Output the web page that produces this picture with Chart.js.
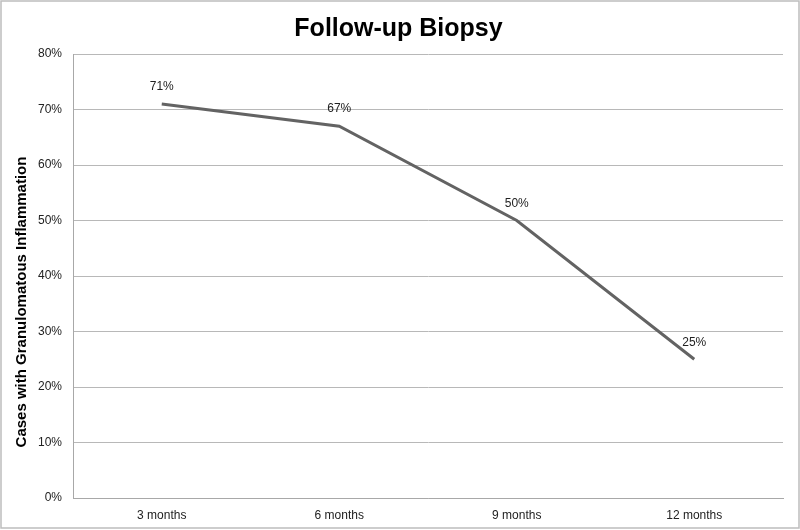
<!DOCTYPE html>
<html>
<head>
<meta charset="utf-8">
<script src="https://cdn.jsdelivr.net/npm/chart.js@4"></script>
<style>
  html, body { margin: 0; padding: 0; background: #fff; }
  #wrap { width: 800px; height: 530px; position: relative; }
</style>
</head>
<body>
<div id="wrap"><canvas id="biopsyChart"></canvas></div>
<script>
// chart data
const categories = ['3 months', '6 months', '9 months', '12 months'];
const inflammation = [71, 67, 50, 25];
const yTicks = [0, 10, 20, 30, 40, 50, 60, 70, 80];
const yTitle = 'Cases with Granulomatous Inflammation';

const FONT = "'Liberation Sans', Arial, sans-serif";

// labels above each point, y title, outer frame
const labelPlugin = {
  id: 'pointLabels',
  afterDatasetsDraw(chart) {
    const ctx = chart.ctx;
    const meta = chart.getDatasetMeta(0);
    ctx.save();
    ctx.font = '12px ' + FONT;
    ctx.fillStyle = '#222';
    ctx.textAlign = 'center';
    ctx.textBaseline = 'middle';
    meta.data.forEach((pt, i) => {
      ctx.fillText(inflammation[i] + '%', pt.x, pt.y - 17);
    });
    ctx.restore();
  },
  afterDraw(chart) {
    const ctx = chart.ctx;
    ctx.save();
    // rotated axis title, sits a bit below the plot's middle like the original
    ctx.translate(22, 302);
    ctx.rotate(-Math.PI / 2);
    ctx.font = 'bold 15px ' + FONT;
    ctx.fillStyle = '#000';
    ctx.textAlign = 'center';
    ctx.textBaseline = 'middle';
    ctx.fillText(yTitle, 0, 0);
    ctx.restore();

    ctx.save();
    ctx.strokeStyle = '#bdbdbd';
    ctx.lineWidth = 1.5;
    ctx.strokeRect(1, 1, chart.width - 2, chart.height - 3);
    ctx.restore();
  }
};

const ctx = document.getElementById('biopsyChart').getContext('2d');
new Chart(ctx, {
  type: 'line',
  data: {
    labels: categories,
    datasets: [{
      data: inflammation,
      borderColor: '#636363',
      borderWidth: 3,
      pointRadius: 0,
      tension: 0,
      fill: false
    }]
  },
  options: {
    responsive: true,
    maintainAspectRatio: false,
    animation: false,
    layout: { padding: { left: 14, right: 17, top: 0, bottom: 0 } },
    plugins: {
      legend: { display: false },
      tooltip: { enabled: false },
      title: {
        display: true,
        text: 'Follow-up Biopsy',
        color: '#000',
        font: { family: FONT, size: 25, weight: 'bold' },
        padding: { top: 14, bottom: 10 }
      }
    },
    scales: {
      x: {
        offset: true,
        grid: { display: false, drawTicks: false },
        border: { display: true, color: '#a8a8a8', width: 1 },
        ticks: { color: '#222', font: { family: FONT, size: 12 }, padding: 10 },
        afterFit(scale) { scale.height = 32; }
      },
      y: {
        min: 0,
        max: 80,
        afterBuildTicks(scale) { scale.ticks = yTicks.map(v => ({ value: v })); },
        grid: { color: '#b8b8b8', lineWidth: 1, drawTicks: false },
        border: { display: true, color: '#a8a8a8', width: 1 },
        ticks: {
          color: '#222',
          font: { family: FONT, size: 12 },
          padding: 11,
          callback: v => v + '%'
        },
        afterFit(scale) { scale.width = 59; }
      }
    }
  },
  plugins: [labelPlugin]
});
</script>
</body>
</html>
